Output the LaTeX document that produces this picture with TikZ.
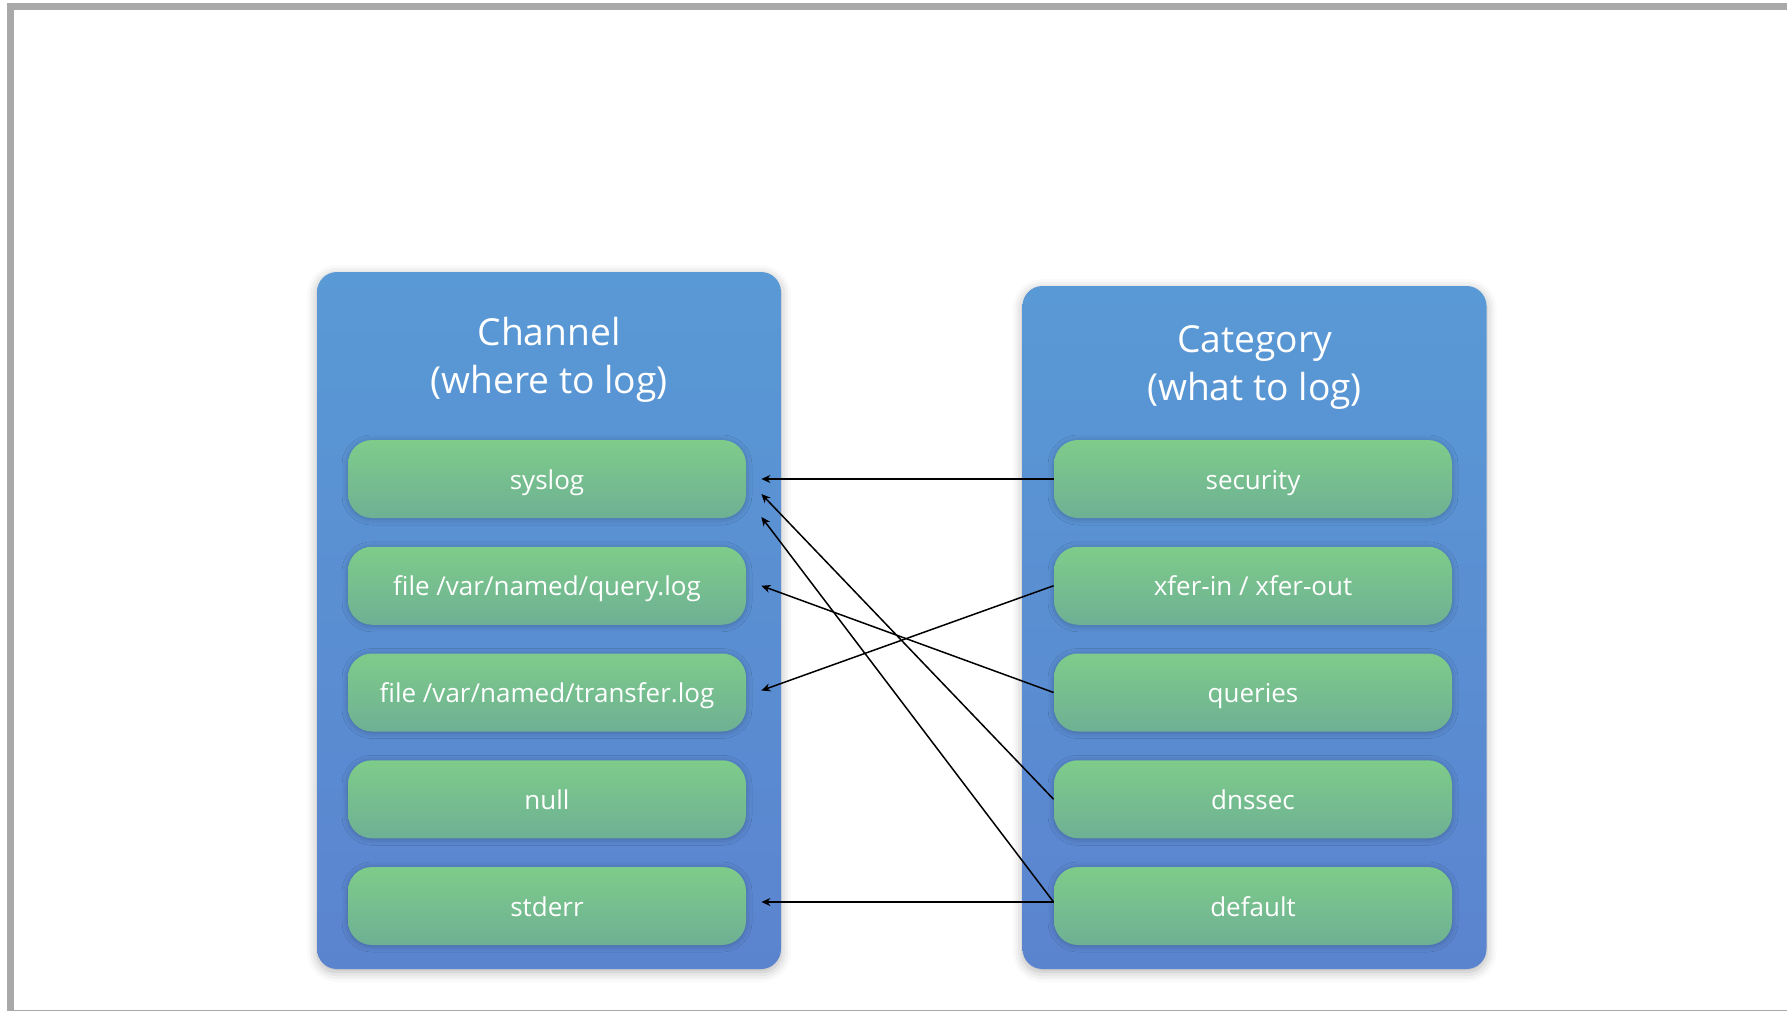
\documentclass[tikz,border=0pt]{standalone}
\usepackage{fontspec}
\setmainfont{Open Sans}
\usetikzlibrary{positioning, arrows.meta, shadows.blur}

\definecolor{panelTop}{RGB}{89,153,213}
\definecolor{panelBot}{RGB}{91,132,207}
\definecolor{itemTop}{RGB}{126,204,138}
\definecolor{itemBot}{RGB}{110,176,148}
\definecolor{frameGray}{RGB}{169,169,169}

\tikzset{
  panel/.style={rounded corners=10pt, minimum width=232pt, top color=panelTop, bottom color=panelBot,
    blur shadow={shadow xshift=0pt, shadow yshift=-1.5pt, shadow blur radius=5pt, shadow opacity=30}},
  item/.style={rounded corners=12pt, minimum width=199pt, minimum height=39pt, inner sep=2pt,
    text height=10pt, text depth=0pt,
    top color=itemTop, bottom color=itemBot, text=white, font=\fontsize{13}{16}\selectfont,
    blur shadow={shadow xshift=0pt, shadow yshift=-0.5pt, shadow blur radius=3pt, shadow opacity=25}},
  heading/.style={text=white, align=center, font=\fontsize{18.6}{24}\selectfont},
}

\begin{document}
\begin{tikzpicture}[x=0.5pt, y=-0.5pt, node distance=53.375pt, on grid, >={Stealth[length=4.5pt, width=4pt]}]
  \useasboundingbox (0,0) rectangle (1787,1011);
  \clip (0,0) rectangle (1787,1011);
  \draw[frameGray, line width=3.5pt] (10.5,6.5) rectangle (1900,1013.5);

  % the two columns
  \node[panel, minimum height=348.5pt] (chan) at (549,620.5) {};
  \node[panel, minimum height=341.5pt] (cat) at (1254.5,627.5) {};
  \node[heading] (chantitle) at (549,360) {Channel\\(where to log)};
  \node[heading] (cattitle) at (1254.5,367) {Category\\(what to log)};

  \node[item] (syslog) at (547,479) {syslog};
  \node[item] (qlog) [below=of syslog] {file /var/named/query.log};
  \node[item] (xlog) [below=of qlog] {file /var/named/transfer.log};
  \node[item] (null) [below=of xlog] {null};
  \node[item] (stderr) [below=of null] {stderr};

  \node[item] (security) [right=353pt of syslog] {security};
  \node[item] (xfer) [below=of security] {xfer-in / xfer-out};
  \node[item] (queries) [below=of xfer] {queries};
  \node[item] (dnssec) [below=of queries] {dnssec};
  \node[item] (default) [below=of dnssec] {default};

  \path[->, line width=0.75pt]
  (security.west) edge ([xshift=7.5pt]syslog.east)
  (xfer.west) edge ([xshift=7.5pt, yshift=1pt]xlog.east)
  (queries.west) edge ([xshift=7.5pt]qlog.east)
  (dnssec.west) edge ([xshift=7.5pt, yshift=-7.5pt]syslog.east)
  ([yshift=2pt]default.west) edge ([xshift=7.5pt, yshift=-19pt]syslog.east)
  ([yshift=2pt]default.west) edge ([xshift=7.5pt, yshift=2pt]stderr.east);
\end{tikzpicture}
\end{document}
